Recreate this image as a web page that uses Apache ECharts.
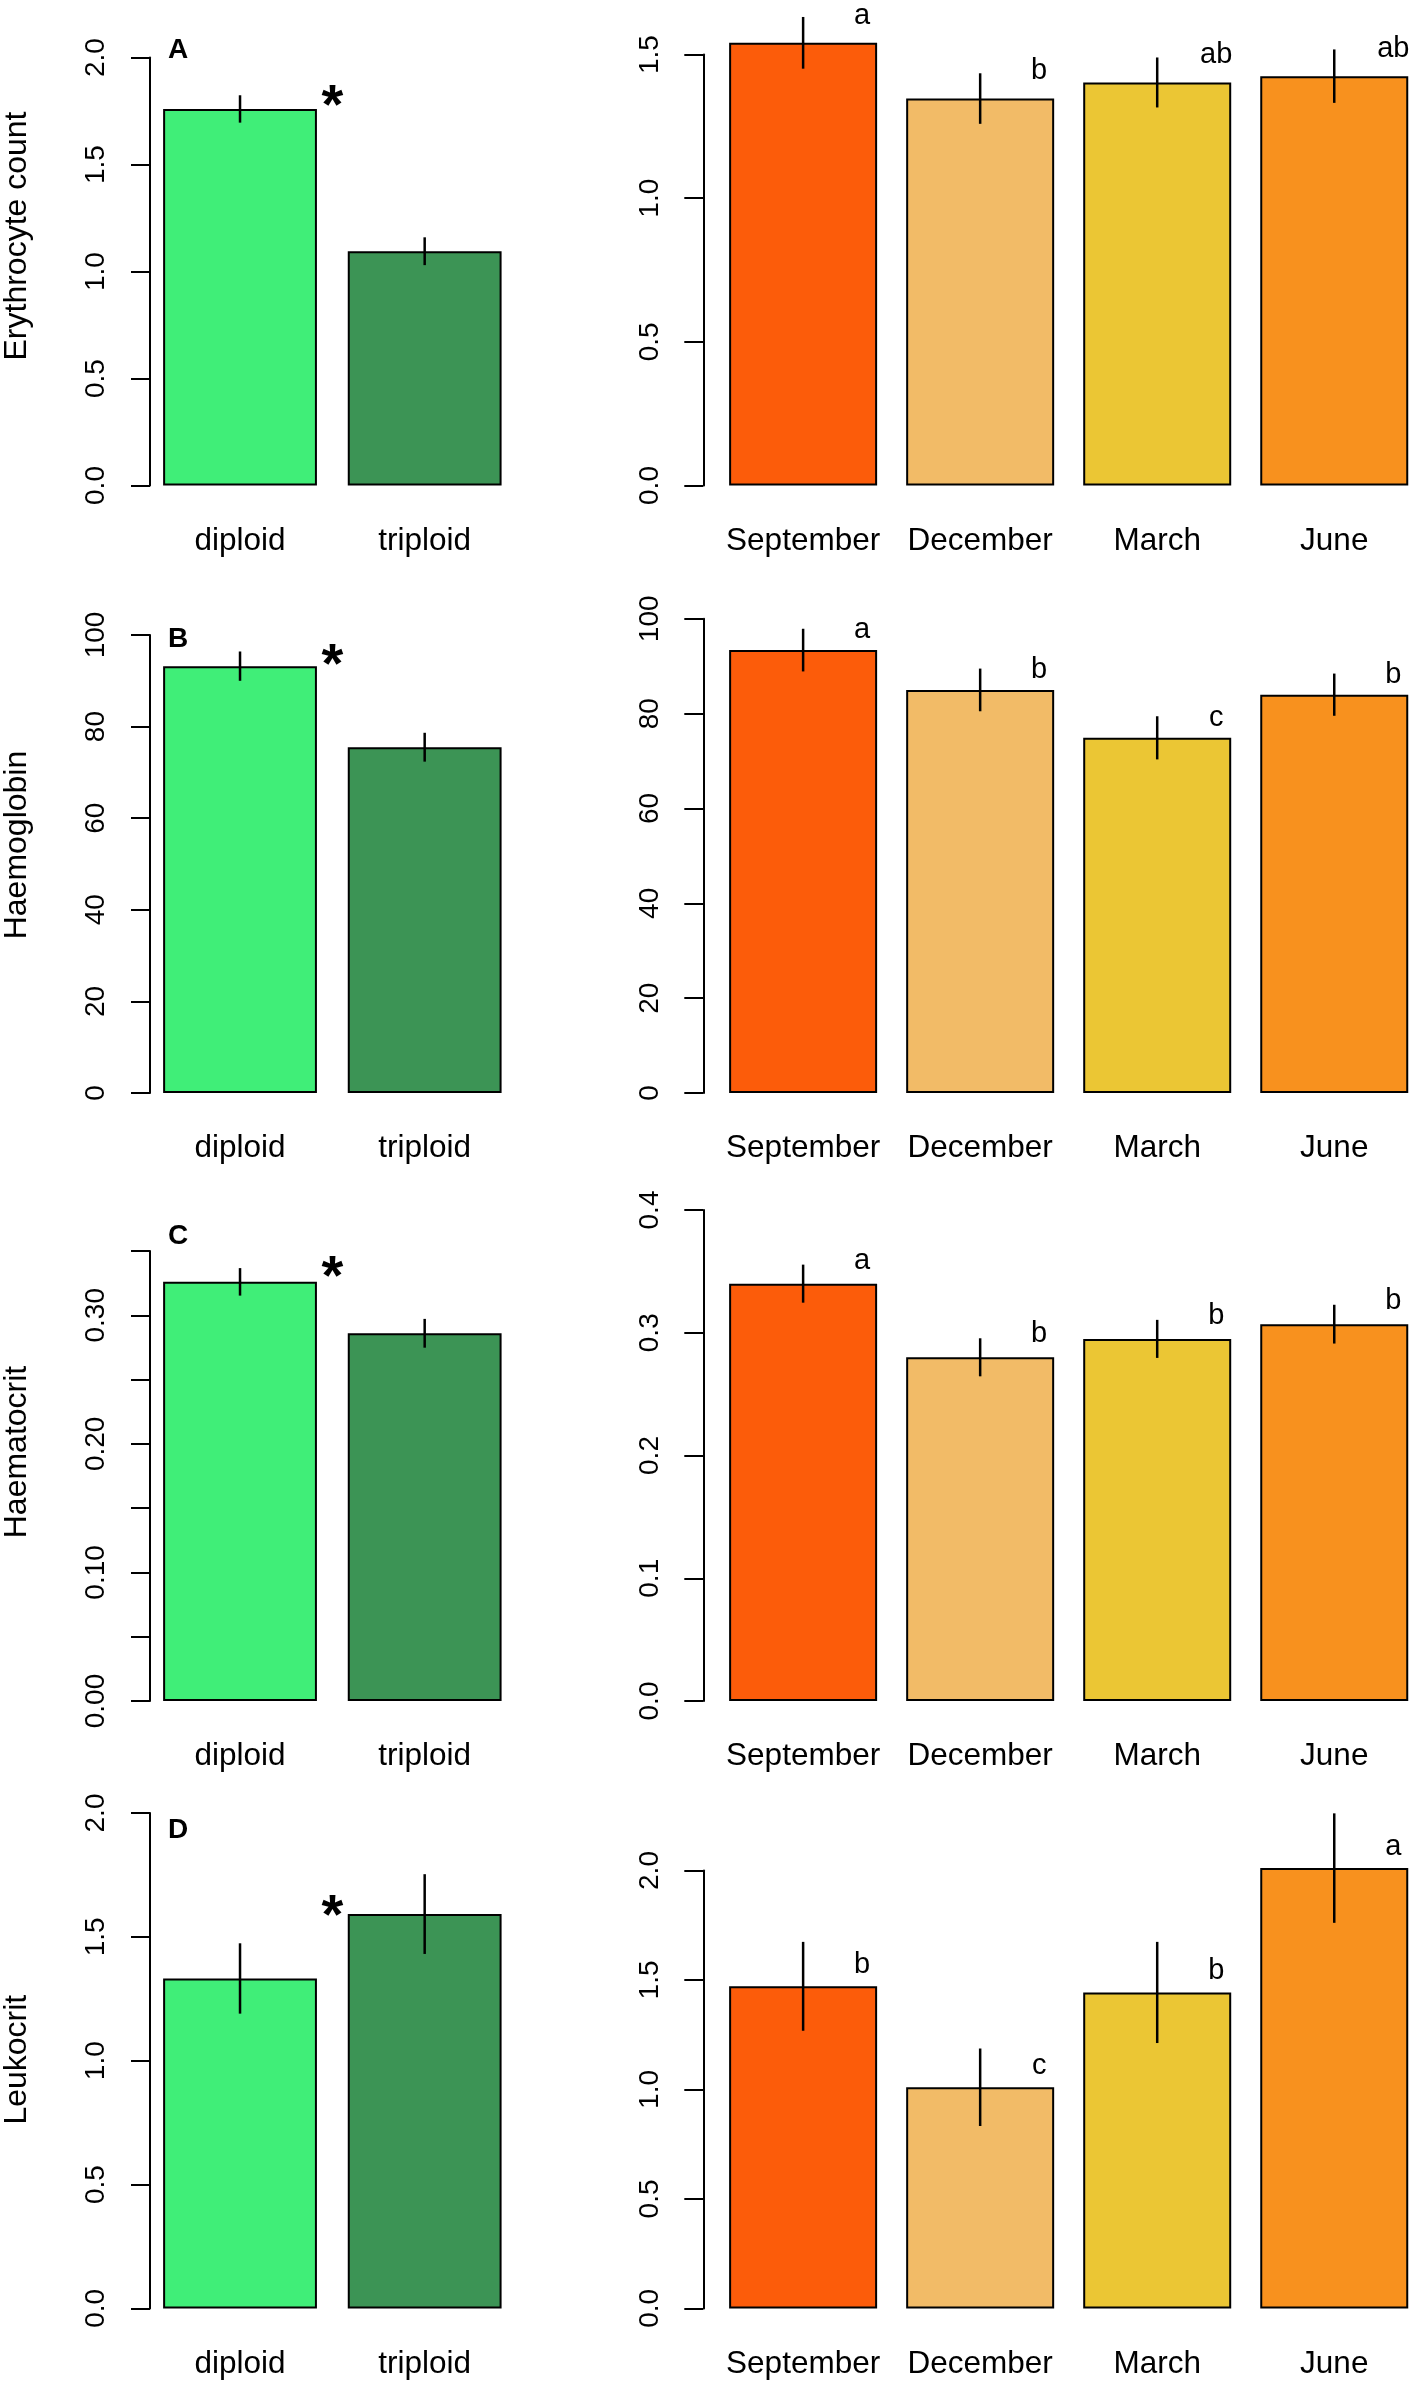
<!DOCTYPE html>
<html>
<head>
<meta charset="utf-8">
<script src="https://cdn.jsdelivr.net/npm/echarts@6/dist/echarts.min.js"></script>
<style>
html,body{margin:0;padding:0;background:#ffffff;}
#chart{width:1418px;height:2386px;}
</style>
</head>
<body>
<div id="chart"></div>
<script>
// ---------------- DATA ----------------
const ploidyGroups = ['diploid', 'triploid'];
const months = ['September', 'December', 'March', 'June'];
const yTitles = ['Erythrocyte count', 'Haemoglobin', 'Haematocrit', 'Leukocrit'];
const panelLetters = ['A', 'B', 'C', 'D'];
const ploidySignificance = ['*', '*', '*', '*'];

// Erythrocyte count
const erythroPloidyMean = [1.76, 1.095];
const erythroPloidySE = [0.064, 0.065];
const erythroMonthMean = [1.541, 1.347, 1.403, 1.425];
const erythroMonthSE = [0.090, 0.088, 0.087, 0.093];
const erythroMonthLetters = ['a', 'b', 'ab', 'ab'];
const erythroPloidyTicks = [0, 0.5, 1, 1.5, 2];
const erythroPloidyTickLabels = ['0.0', '0.5', '1.0', '1.5', '2.0'];
const erythroMonthTicks = [0, 0.5, 1, 1.5];
const erythroMonthTickLabels = ['0.0', '0.5', '1.0', '1.5'];

// Haemoglobin
const haemoPloidyMean = [93.2, 75.5];
const haemoPloidySE = [3.2, 3.15];
const haemoMonthMean = [93.4, 85.0, 74.9, 84.0];
const haemoMonthSE = [4.5, 4.5, 4.55, 4.45];
const haemoMonthLetters = ['a', 'b', 'c', 'b'];
const haemoPloidyTicks = [0, 20, 40, 60, 80, 100];
const haemoPloidyTickLabels = ['0', '20', '40', '60', '80', '100'];
const haemoMonthTicks = [0, 20, 40, 60, 80, 100];
const haemoMonthTickLabels = ['0', '20', '40', '60', '80', '100'];

// Haematocrit
const hctPloidyMean = [0.326, 0.286];
const hctPloidySE = [0.0107, 0.0112];
const hctMonthMean = [0.340, 0.280, 0.295, 0.307];
const hctMonthSE = [0.0155, 0.0155, 0.0155, 0.0158];
const hctMonthLetters = ['a', 'b', 'b', 'b'];
const hctPloidyTicks = [0, 0.05, 0.1, 0.15, 0.2, 0.25, 0.3, 0.35];
const hctPloidyTickLabels = ['0.00', '', '0.10', '', '0.20', '', '0.30', ''];
const hctMonthTicks = [0, 0.1, 0.2, 0.3, 0.4];
const hctMonthTickLabels = ['0.0', '0.1', '0.2', '0.3', '0.4'];

// Leukocrit
const leukoPloidyMean = [1.332, 1.592];
const leukoPloidySE = [0.142, 0.161];
const leukoMonthMean = [1.471, 1.010, 1.443, 2.011];
const leukoMonthSE = [0.203, 0.177, 0.231, 0.25];
const leukoMonthLetters = ['b', 'c', 'b', 'a'];
const leukoPloidyTicks = [0, 0.5, 1, 1.5, 2];
const leukoPloidyTickLabels = ['0.0', '0.5', '1.0', '1.5', '2.0'];
const leukoMonthTicks = [0, 0.5, 1, 1.5, 2];
const leukoMonthTickLabels = ['0.0', '0.5', '1.0', '1.5', '2.0'];

// ---------------- STYLE / LAYOUT ----------------
const ploidyColors = ['#40EE78', '#3C9455'];
const monthColors = ['#FC5C0A', '#F2BB67', '#EBC634', '#F8911E'];
const FONT = "'Liberation Sans', Arial, Helvetica, sans-serif";

const panels = [
  { ploidy: [erythroPloidyMean, erythroPloidySE, erythroPloidyTicks, erythroPloidyTickLabels],
    month: [erythroMonthMean, erythroMonthSE, erythroMonthLetters, erythroMonthTicks, erythroMonthTickLabels] },
  { ploidy: [haemoPloidyMean, haemoPloidySE, haemoPloidyTicks, haemoPloidyTickLabels],
    month: [haemoMonthMean, haemoMonthSE, haemoMonthLetters, haemoMonthTicks, haemoMonthTickLabels] },
  { ploidy: [hctPloidyMean, hctPloidySE, hctPloidyTicks, hctPloidyTickLabels],
    month: [hctMonthMean, hctMonthSE, hctMonthLetters, hctMonthTicks, hctMonthTickLabels] },
  { ploidy: [leukoPloidyMean, leukoPloidySE, leukoPloidyTicks, leukoPloidyTickLabels],
    month: [leukoMonthMean, leukoMonthSE, leukoMonthLetters, leukoMonthTicks, leukoMonthTickLabels] }
];

// pixel layout per row
const rowLayout = [
  { lt: 57.6, lb: 485.5, rt: 54.6, rb: 485.5, titleY: 236, tagY: 50, starGap: 14, letterGap: 17 },
  { lt: 635, lb: 1093, rt: 618.8, rb: 1093, titleY: 845, tagY: 639.6, starGap: 13, letterGap: 10 },
  { lt: 1251, lb: 1701, rt: 1210, rb: 1701, titleY: 1452, tagY: 1235.8, starGap: 16, letterGap: 13 },
  { lt: 1813, lb: 2308.4, rt: 1870.5, rb: 2308.4, titleY: 2059.7, tagY: 1830.5, starGap: 10, letterGap: 11 }
];
const LEFT = { left: 147, width: 370, axisOffset: -2.3, labelSize: 28, labelMargin: 40 };
const RIGHT = { left: 714.6, right: 0, band: 177.8, barPx: 148, axisOffset: 11.3, labelSize: 28, labelMargin: 39 };
const PAGE_W = 1418;
const XLABEL_SIZE = 31.5, XLABEL_MARGIN = 40;
const LETTER_SIZE = 29, STAR_SIZE = 56, TITLE_SIZE = 32;

function tickFormatter(ticks, labels) {
  return function (v) {
    for (let i = 0; i < ticks.length; i++) {
      if (Math.abs(ticks[i] - v) < 1e-9) return labels[i];
    }
    return '';
  };
}
function monthFormatter(v) {
  return (Number.isInteger(v) && months[v] !== undefined) ? months[v] : '';
}

const grids = [], xAxes = [], yAxes = [], series = [], graphics = [];
const rightWidth = PAGE_W - RIGHT.left - RIGHT.right;
const rightXMax = -0.5 + rightWidth / RIGHT.band;

panels.forEach(function (p, r) {
  const L = rowLayout[r];
  // ---- left (ploidy) panel ----
  const gi = grids.length;
  grids.push({ left: LEFT.left, width: LEFT.width, top: L.lt, height: L.lb - L.lt });
  const pm = p.ploidy[0], pse = p.ploidy[1], pt = p.ploidy[2], ptl = p.ploidy[3];
  const axisCenter = (L.lt + L.lb) / 2;
  const shift = axisCenter - L.titleY;
  xAxes.push({
    gridIndex: gi, type: 'category', data: ploidyGroups,
    axisLine: { show: false, onZero: false }, axisTick: { show: false },
    axisLabel: { interval: 0, margin: XLABEL_MARGIN, fontSize: XLABEL_SIZE, lineHeight: XLABEL_SIZE, fontFamily: FONT, color: '#000' }
  });
  yAxes.push({
    gridIndex: gi, type: 'value', min: pt[0], max: pt[pt.length - 1], interval: pt[1] - pt[0],
    offset: LEFT.axisOffset,
    axisLine: { show: true, onZero: false, lineStyle: { color: '#000', width: 2 } },
    axisTick: { show: true, length: 19, lineStyle: { color: '#000', width: 2 } },
    splitLine: { show: false },
    axisLabel: { rotate: 90, margin: LEFT.labelMargin, fontSize: LEFT.labelSize, lineHeight: LEFT.labelSize, fontFamily: FONT, color: '#000', formatter: tickFormatter(pt, ptl) },
    name: yTitles[r], nameLocation: 'middle', nameGap: 117,
    nameTextStyle: { fontSize: TITLE_SIZE, lineHeight: TITLE_SIZE, fontFamily: FONT, color: '#000', padding: [0, 0, 0, Math.max(0, 2 * shift)] }
  });
  series.push({
    type: 'bar', xAxisIndex: gi, yAxisIndex: gi, barWidth: '83.3%', clip: false, silent: true,
    itemStyle: { borderColor: '#000', borderWidth: 2 },
    data: pm.map(function (m, i) { return { value: m, itemStyle: { color: ploidyColors[i] } }; })
  });
  series.push({
    type: 'custom', xAxisIndex: gi, yAxisIndex: gi, clip: false, silent: true, z: 5,
    data: pm.map(function (m, i) { return [i, m, pse[i]]; }),
    renderItem: function (params, api) {
      const i = api.value(0), m = api.value(1), se = api.value(2);
      const a = api.coord([i, m + se]), b = api.coord([i, m - se]);
      return { type: 'line', shape: { x1: a[0], y1: a[1], x2: b[0], y2: b[1] }, style: { stroke: '#000', lineWidth: 2.5 } };
    }
  });
  series.push({
    type: 'custom', xAxisIndex: gi, yAxisIndex: gi, clip: false, silent: true, z: 6,
    data: [[0, pm[0], pm[1]]],
    renderItem: function (params, api) {
      const top = Math.max(api.value(1), api.value(2));
      const c0 = api.coord([0, top]), c1 = api.coord([1, top]);
      const x = (c0[0] + c1[0]) / 2;
      const y = c0[1] - L.starGap + 0.233 * STAR_SIZE;
      return { type: 'text', x: x, y: y,
        style: { text: ploidySignificance[r], fontSize: STAR_SIZE, fontWeight: 'bold', fontFamily: FONT, fill: '#000',
          textAlign: 'center', textVerticalAlign: 'middle', align: 'center', verticalAlign: 'middle' } };
    }
  });
  graphics.push({ type: 'text', x: 168, y: L.tagY,
    style: { text: panelLetters[r], fontSize: 28, fontWeight: 'bold', fontFamily: FONT, fill: '#000',
      textAlign: 'left', textVerticalAlign: 'middle', align: 'left', verticalAlign: 'middle' } });

  // ---- right (month) panel ----
  const gj = grids.length;
  grids.push({ left: RIGHT.left, right: RIGHT.right, top: L.rt, height: L.rb - L.rt });
  const mm = p.month[0], mse = p.month[1], ml = p.month[2], mt = p.month[3], mtl = p.month[4];
  xAxes.push({
    gridIndex: gj, type: 'value', min: -0.5, max: rightXMax, interval: 0.5,
    axisLine: { show: false, onZero: false }, axisTick: { show: false }, splitLine: { show: false },
    axisLabel: { margin: XLABEL_MARGIN, fontSize: XLABEL_SIZE, lineHeight: XLABEL_SIZE, fontFamily: FONT, color: '#000',
      showMinLabel: true, showMaxLabel: true, hideOverlap: false, formatter: monthFormatter }
  });
  yAxes.push({
    gridIndex: gj, type: 'value', min: mt[0], max: mt[mt.length - 1], interval: mt[1] - mt[0],
    offset: RIGHT.axisOffset,
    axisLine: { show: true, onZero: false, lineStyle: { color: '#000', width: 2 } },
    axisTick: { show: true, length: 19, lineStyle: { color: '#000', width: 2 } },
    splitLine: { show: false },
    axisLabel: { rotate: 90, margin: RIGHT.labelMargin, fontSize: RIGHT.labelSize, lineHeight: RIGHT.labelSize, fontFamily: FONT, color: '#000', formatter: tickFormatter(mt, mtl) }
  });
  series.push({
    type: 'bar', xAxisIndex: gj, yAxisIndex: gj, barWidth: RIGHT.barPx, clip: false, silent: true,
    itemStyle: { borderColor: '#000', borderWidth: 2 },
    data: mm.map(function (m, i) { return { value: [i, m], itemStyle: { color: monthColors[i] } }; })
  });
  series.push({
    type: 'custom', xAxisIndex: gj, yAxisIndex: gj, clip: false, silent: true, z: 5,
    data: mm.map(function (m, i) { return [i, m, mse[i]]; }),
    renderItem: function (params, api) {
      const i = api.value(0), m = api.value(1), se = api.value(2);
      const a = api.coord([i, m + se]), b = api.coord([i, m - se]), c = api.coord([i, m]);
      const band = api.size([1, 0])[0];
      return { type: 'group', children: [
        { type: 'line', shape: { x1: a[0], y1: a[1], x2: b[0], y2: b[1] }, style: { stroke: '#000', lineWidth: 2.5 } },
        { type: 'text', x: c[0] + band / 3, y: c[1] - L.letterGap - 0.347 * LETTER_SIZE,
          style: { text: ml[params.dataIndex], fontSize: LETTER_SIZE, fontFamily: FONT, fill: '#000',
            textAlign: 'center', textVerticalAlign: 'middle', align: 'center', verticalAlign: 'middle' } }
      ] };
    }
  });
});

const chart = echarts.init(document.getElementById('chart'), null, { renderer: 'canvas' });
chart.setOption({
  animation: false,
  backgroundColor: '#ffffff',
  grid: grids,
  xAxis: xAxes,
  yAxis: yAxes,
  series: series,
  graphic: graphics
});
</script>
</body>
</html>
